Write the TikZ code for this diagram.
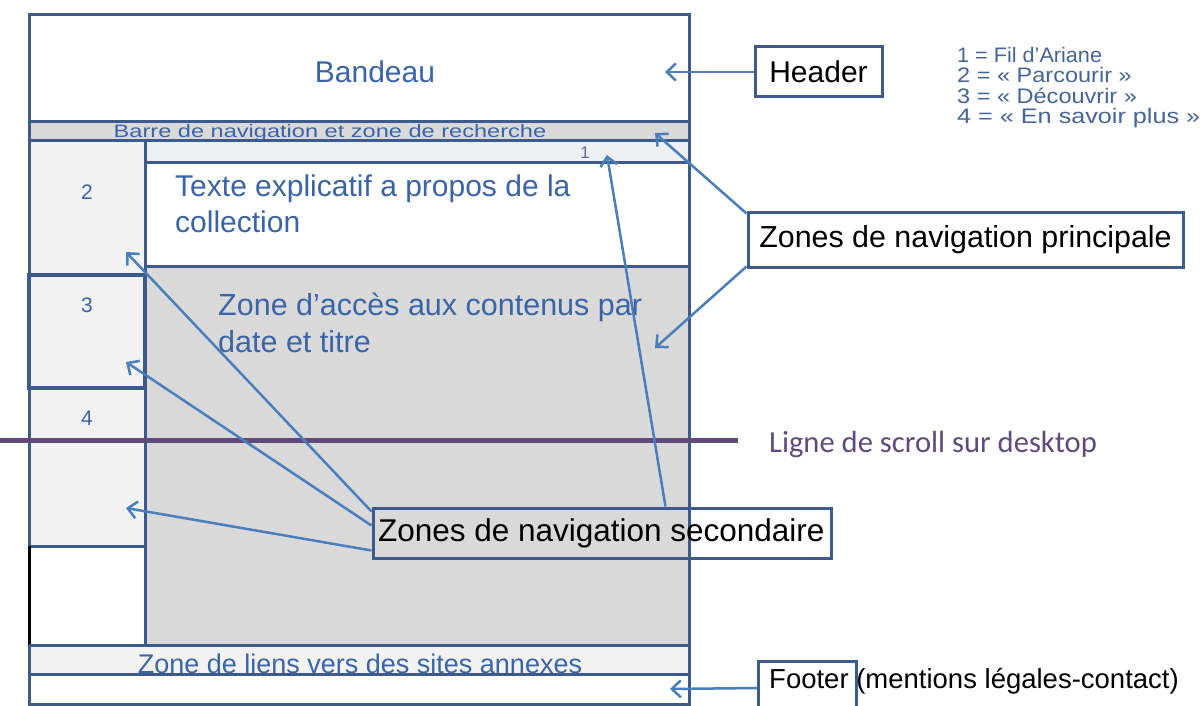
\documentclass[tikz,border=0pt]{standalone}
\usepackage{fontspec}
\setmainfont{Liberation Sans}
\newfontfamily\calib{Carlito}
\usetikzlibrary{arrows.meta,calc}
\definecolor{frame}{RGB}{60,90,140}
\definecolor{textblue}{RGB}{58,100,165}
\definecolor{legendc}{RGB}{70,100,150}
\definecolor{arrowc}{RGB}{74,126,187}
\definecolor{grayA}{RGB}{217,217,217}
\definecolor{grayB}{RGB}{242,242,242}
\definecolor{grayC}{RGB}{238,239,241}
\definecolor{scrollc}{RGB}{96,74,123}
\definecolor{onec}{RGB}{95,110,140}
\begin{document}
\begin{tikzpicture}[x=1pt,y=-1pt,
  region/.style={draw=frame,line width=3pt},
  callout/.style={draw=frame,line width=3pt,fill=white,text=black,inner sep=0pt},
  pointer/.style={draw=arrowc,line width=2.5pt,-{Straight Barb[length=9pt,width=17pt,line width=2.5pt]}},
  lbl/.style={inner sep=0pt,text=textblue},
  big/.style={font=\fontsize{30}{36}\selectfont}
]
\useasboundingbox (0,0) rectangle (1203,706);
\fill[white] (0,0) rectangle (1203,706);
% fills
\fill[grayA] (29,122) rectangle (689,141);
\fill[grayB] (29,141) rectangle (145,546);
\fill[grayC] (145,141) rectangle (689,163);
\fill[grayA] (145,266) rectangle (689,645);
\fill[grayB] (29,645) rectangle (689,674);
% lines
\draw[region] (29,15) rectangle (689,704);
\draw[region] (29,122) -- (689,122);
\draw[region] (29,141) -- (689,141);
\draw[region] (145,141) -- (145,645);
\draw[region] (145,163) -- (689,163);
\draw[region] (145,266) -- (689,266);
\draw[region, line width=3.5pt] (29,275) rectangle (145,388);
\draw[region] (29,546) -- (145,546);
\draw[black, line width=3pt] (29,546) -- (29,645);
\draw[region] (29,645) -- (689,645);
\draw[region] (29,674) -- (689,674);
% scroll line
\draw[scrollc, line width=5pt] (0,440) -- (738,440);
\node[anchor=base west, inner sep=0pt, text=scrollc, font=\calib\fontsize{30.6}{36}\selectfont] (scroll) at (769,452) {Ligne de scroll sur desktop};
% texts
\node[lbl, big, anchor=base] (bandeau) at (375,83) {Bandeau};
\node[lbl, anchor=base, font=\fontsize{18}{20}\selectfont] (barre) at (330,138) {\scalebox{1.31}[1]{Barre de navigation et zone de recherche}};
\node[inner sep=0pt, text=onec, anchor=base, font=\fontsize{17}{20}\selectfont] (one) at (585,159) {1};
\node[lbl, big, anchor=north west, align=left] (texte) at (175,175) {Texte explicatif a propos de la\\collection};
\node[lbl, anchor=north west, align=left, font=\fontsize{30.5}{37}\selectfont] (acces) at (218,293) {Zone d’accès aux contenus par\\date et titre};
\node[lbl, anchor=base, font=\fontsize{21}{24}\selectfont] (n2) at (87,200) {2};
\node[lbl, anchor=base, font=\fontsize{21}{24}\selectfont] (n3) at (87,312) {3};
\node[lbl, anchor=base, font=\fontsize{21}{24}\selectfont] (n4) at (87,425) {4};
\node[lbl, anchor=base, font=\fontsize{27}{30}\selectfont] (liens) at (360,673) {Zone de liens vers des sites annexes};
\node[inner sep=0pt, text=legendc, anchor=north west, align=left, font=\fontsize{21}{20.3}\selectfont] (legend) at (957,47) {\scalebox{1.03}[1]{1 = Fil d’Ariane}\\\scalebox{1.12}[1]{2 = « Parcourir »}\\\scalebox{1.12}[1]{3 = « Découvrir »}\\\scalebox{1.2}[1]{4 = « En savoir plus »}};
% callouts
\node[callout, big, minimum width=127pt, minimum height=50pt] (header) at (818.5,72) {Header};
\node[callout, font=\fontsize{30.4}{36}\selectfont, minimum width=435pt, minimum height=54pt] (prin) at (965.5,240) {Zones de navigation principale};
\node[draw=frame, line width=3pt, text=black, font=\fontsize{31.5}{36}\selectfont, minimum height=50pt, inner xsep=5pt, inner ysep=0pt] (sec) at (602,533) {\makebox[448pt][l]{Zones de navigation secondaire}};
\node[draw=frame, line width=3pt, minimum width=98pt, minimum height=55pt, anchor=north west, inner sep=0pt] (footbox) at (757,660) {};
\node[anchor=base west, inner sep=0pt, text=black, font=\fontsize{27.5}{32}\selectfont] (foottext) at (769,688) {Footer (mentions légales-contact)};
% arrow targets
\coordinate (tBandeau) at (665,72);
\coordinate (tBarre) at (655,133);
\coordinate (tAcces) at (655,348);
\coordinate (tTwo) at (126,252);
\coordinate (tThree) at (126,362);
\coordinate (tFour) at (126,508);
\coordinate (tOne) at (607,155);
\coordinate (tFooter) at (670,689);
% arrows
\draw[pointer] (header.west) -- (tBandeau);
\draw[pointer] ($(prin.north west)+(0,2)$) -- (tBarre);
\draw[pointer] ($(prin.south west)+(0,-2)$) -- (tAcces);
\draw[pointer] ($(sec.north west)+(0,5)$) -- (tTwo);
\draw[pointer] ($(sec.north west)+(0,19)$) -- (tThree);
\draw[pointer] ($(sec.north west)+(0,44)$) -- (tFour);
\draw[pointer] ($(sec.north west)+(294,0)$) -- (tOne);
\draw[pointer] ($(footbox.north west)+(0,28)$) -- (tFooter);
\end{tikzpicture}
\end{document}
